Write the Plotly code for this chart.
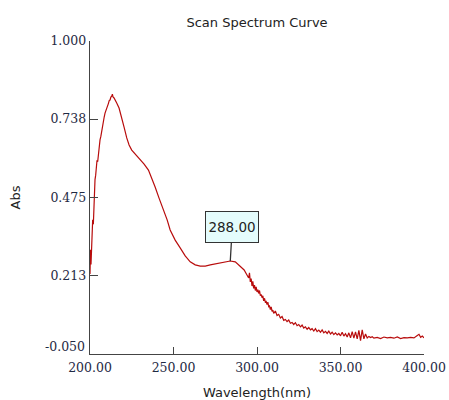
import plotly.graph_objects as go

wavelength = [
    200.0, 200.3, 200.6, 201.0, 201.3, 201.6, 202.0, 202.4, 202.7, 203.0, 203.4, 203.8,
    204.2, 204.6, 205.0, 205.5, 206.0, 206.5, 207.0, 207.5, 208.0, 208.5, 209.0, 209.5,
    210.0, 210.5, 211.0, 211.5, 212.0, 212.5, 213.0, 213.4, 213.8, 214.4, 215.0, 216.0,
    217.4, 219.0, 220.4, 222.0, 223.4, 225.0, 227.6, 230.0, 232.4, 235.0, 237.0, 239.0,
    241.4, 244.0, 246.2, 248.0, 251.0, 254.0, 257.0, 260.0, 263.0, 266.0, 269.0, 272.0,
    275.0, 278.0, 281.0, 284.0, 287.0, 290.0, 292.3, 294.0, 295.0, 295.5, 296.0, 296.5,
    297.0, 297.5, 298.0, 298.5, 299.0, 299.5, 300.0, 300.5, 301.0, 301.5, 302.0, 302.5,
    303.0, 303.5, 304.0, 304.5, 305.0, 305.5, 306.0, 306.5, 307.0, 307.5, 308.0, 308.5,
    309.0, 309.5, 310.0, 311, 312, 313, 314, 315, 316, 317, 318, 319, 320, 321, 322, 323,
    324, 325, 326, 327, 328, 329, 330, 331, 332, 333, 334, 335, 336, 337, 338, 339, 340,
    341, 342, 343, 344, 345, 346, 347, 348, 349, 350, 351, 352, 353, 354, 355, 356, 357,
    358, 359, 360, 361, 362, 363, 364, 365, 366, 367, 368, 369, 370, 372, 374, 376, 378,
    380, 382, 384, 386, 388, 390, 392, 394, 396, 397, 398, 399, 400,
]
absorbance = [
    0.218, 0.300, 0.250, 0.356, 0.330, 0.400, 0.385, 0.470, 0.440, 0.535, 0.550, 0.580,
    0.600, 0.595, 0.625, 0.640, 0.668, 0.680, 0.701, 0.715, 0.735, 0.745, 0.758, 0.765,
    0.775, 0.785, 0.790, 0.800, 0.802, 0.812, 0.815, 0.822, 0.812, 0.809, 0.800, 0.792,
    0.775, 0.745, 0.711, 0.675, 0.651, 0.634, 0.618, 0.601, 0.587, 0.567, 0.540, 0.510,
    0.472, 0.436, 0.400, 0.366, 0.332, 0.306, 0.279, 0.259, 0.249, 0.245, 0.245, 0.249,
    0.252, 0.255, 0.259, 0.262, 0.259, 0.245, 0.232, 0.215, 0.205, 0.222, 0.192, 0.203,
    0.178, 0.194, 0.170, 0.181, 0.163, 0.175, 0.158, 0.166, 0.153, 0.163, 0.146, 0.150,
    0.139, 0.145, 0.128, 0.137, 0.124, 0.126, 0.116, 0.124, 0.109, 0.111, 0.099, 0.108,
    0.093, 0.097, 0.086, 0.094, 0.079, 0.083, 0.071, 0.076, 0.063, 0.066, 0.059, 0.064,
    0.053, 0.056, 0.049, 0.055, 0.045, 0.049, 0.041, 0.047, 0.037, 0.041, 0.033, 0.039,
    0.031, 0.035, 0.027, 0.035, 0.025, 0.030, 0.023, 0.031, 0.021, 0.026, 0.019, 0.027,
    0.017, 0.023, 0.015, 0.021, 0.014, 0.019, 0.011, 0.023, 0.010, 0.018, 0.007, 0.021,
    0.004, 0.025, 0.003, 0.024, 0.001, 0.029, -0.005, 0.031, 0.001, 0.017, 0.004, 0.009,
    0.005, 0.008, 0.003, 0.006, 0.002, 0.007, 0.004, 0.006, 0.003, 0.007, 0.002, 0.005,
    0.004, 0.006, 0.004, 0.012, 0.016, 0.006, 0.010, 0.004,
]

x_ticks = [200, 250, 300, 350, 400]
x_tick_labels = ["200.00", "250.00", "300.00", "350.00", "400.00"]
y_ticks = [0.213, 0.475, 0.738, 1.0]
y_tick_labels = ["0.213", "0.475", "0.738", "1.000"]
y_bottom = -0.05
y_bottom_label = "-0.050"
x_left = 200

peak_wavelength = 284.0
peak_absorbance = 0.262
peak_label = "288.00"

tick_font = dict(family="DejaVu Serif", size=12.5, color="#1f2a44")
sans = "DejaVu Sans"

fig = go.Figure()
fig.add_trace(go.Scatter(
    x=wavelength, y=absorbance, mode="lines",
    line=dict(color="#b80c0c", width=1.2),
    hoverinfo="skip", showlegend=False,
))

fig.update_layout(
    width=449, height=400,
    margin=dict(l=90, r=25, t=41, b=46, autoexpand=False),
    paper_bgcolor="white", plot_bgcolor="white",
    title=dict(text="Scan Spectrum Curve", x=257 / 449, xanchor="center",
               y=1 - 22 / 400, yanchor="middle",
               font=dict(family=sans, size=13, color="#222222")),
    xaxis=dict(
        range=[200, 400], tickvals=x_ticks, ticktext=x_tick_labels,
        ticks="inside", ticklen=7, tickcolor="#444444", tickwidth=1,
        showline=True, linecolor="#444444", linewidth=1.3,
        showgrid=False, zeroline=False, tickfont=tick_font, automargin=False,
        ticklabelstandoff=2,
        title=dict(text="Wavelength(nm)", font=dict(family=sans, size=13, color="#222222"),
                   standoff=13),
    ),
    yaxis=dict(
        range=[-0.05, 1.0], tickvals=y_ticks, ticktext=y_tick_labels,
        ticks="inside", ticklen=8, tickcolor="#444444", tickwidth=1,
        showline=True, linecolor="#444444", linewidth=1.3,
        showgrid=False, zeroline=False, tickfont=tick_font, automargin=False,
        title=dict(text="Abs", font=dict(family=sans, size=13, color="#222222"),
                   standoff=27),
    ),
)

fig.add_annotation(
    x=x_left, y=y_bottom, xref="x", yref="y",
    text=y_bottom_label, showarrow=False, xanchor="right", yanchor="middle",
    xshift=-3, yshift=8, font=tick_font,
)

fig.add_annotation(
    x=peak_wavelength, y=peak_absorbance, xref="x", yref="y",
    text=peak_label, showarrow=True, arrowhead=0, arrowwidth=1.3,
    arrowcolor="#333333", ax=2, ay=-34,
    bgcolor="#e4fcfc", bordercolor="#333333", borderwidth=1, borderpad=2,
    width=48, height=26,
    font=dict(family=sans, size=13.5, color="#222222"),
)

fig.write_html(
    "out.html",
    config={"displayModeBar": False, "staticPlot": True},
    post_script="document.body.style.margin='0';document.body.style.overflow='hidden';",
)
